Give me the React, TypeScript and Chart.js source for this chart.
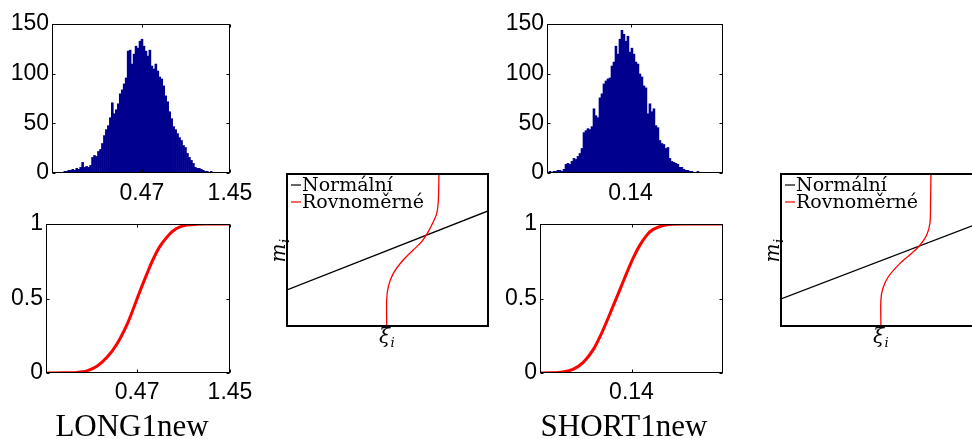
import React, { useEffect, useRef } from "react";
import { Chart, registerables } from "chart.js";

Chart.register(...registerables);

// ---------- Data ----------
const histYTicks = [0, 50, 100, 150];

const histLongStart = -0.53;
const histLongBinWidth = 0.022;
const histLongXRange = [-0.53, 1.45];
const histLongXTicks = [0.47, 1.45];
const histLongCounts = [
  1, 1, 1, 1, 1, 1, 2, 2, 3, 3, 4, 3, 5, 4, 6, 11, 6, 7, 6, 8,
  16, 18, 17, 22, 24, 30, 38, 44, 48, 56, 71, 60, 64, 70, 80, 84, 90, 96, 123, 124,
  110, 120, 128, 126, 133, 135, 128, 123, 118, 124, 108, 105, 110, 103, 97, 95, 88, 78, 72, 62,
  55, 47, 44, 40, 36, 33, 28, 26, 20, 16, 13, 10, 6, 5, 5, 4, 3, 2, 2, 1,
  2, 1, 1, 1, 1, 0, 1, 0, 1,
];

const histShortStart = -0.14;
const histShortBinWidth = 0.0067;
const histShortXRange = [-0.14, 0.45];
const histShortXTicks = [0.14];
const histShortCounts = [
  1, 2, 1, 2, 2, 3, 3, 2, 4, 9, 10, 9, 12, 15, 14, 17, 20, 25, 41, 43,
  45, 44, 47, 65, 58, 56, 76, 80, 90, 93, 95, 96, 108, 112, 128, 120, 135, 144, 140, 133,
  138, 122, 126, 120, 112, 110, 100, 97, 88, 86, 60, 70, 62, 65, 48, 46, 33, 30, 29, 25,
  26, 15, 12, 11, 10, 9, 6, 6, 4, 3, 3, 2, 2, 1, 1, 2, 1, 1, 1, 0,
  1, 1, 0, 1, 1, 1, 1, 1,
];

const cdfYTicks = [0, 0.5, 1];

const cdfLongXRange = [-0.49, 1.45];
const cdfLongXTicks = [0.47, 1.45];
const cdfLongX = [-0.49, -0.3, -0.163, -0.058, 0.047, 0.153, 0.258, 0.364, 0.427, 0.5, 0.574, 0.637, 0.711, 0.785, 0.848, 0.922, 0.996, 1.1, 1.2, 1.45];
const cdfLongY = [0, 0.001, 0.004, 0.014, 0.045, 0.105, 0.195, 0.325, 0.425, 0.548, 0.665, 0.76, 0.85, 0.912, 0.953, 0.98, 0.993, 0.999, 1, 1];

const cdfShortXRange = [-0.16, 0.44];
const cdfShortXTicks = [0.14];
const cdfShortX = [-0.16, -0.12, -0.085, -0.052, -0.019, 0.014, 0.047, 0.079, 0.102, 0.125, 0.145, 0.168, 0.191, 0.21, 0.243, 0.276, 0.31, 0.44];
const cdfShortY = [0, 0.001, 0.007, 0.025, 0.07, 0.155, 0.29, 0.445, 0.56, 0.675, 0.77, 0.86, 0.927, 0.962, 0.99, 0.999, 1, 1];

const normalLongX = [0, 1];
const normalLongY = [0.237, 0.757];
const uniformLongX = [0.496, 0.496, 0.504, 0.529, 0.578, 0.628, 0.67, 0.703, 0.728, 0.745, 0.753, 0.756];
const uniformLongY = [0, 0.171, 0.259, 0.346, 0.434, 0.5, 0.555, 0.621, 0.686, 0.741, 0.829, 1.0];

const normalShortX = [0, 1];
const normalShortY = [0.178, 0.684];
const uniformShortX = [0.497, 0.497, 0.507, 0.534, 0.592, 0.65, 0.692, 0.725, 0.741, 0.744, 0.746];
const uniformShortY = [0, 0.171, 0.248, 0.324, 0.412, 0.478, 0.533, 0.599, 0.676, 0.807, 1];

const legendLabels = ["Normální", "Rovnoměrné"];
const xiTickValue = 0.5;
const titles = ["LONG1new", "SHORT1new"];

// ---------- Styles ----------
const HIST_BLUE = "#00008f";
const RED = "#ff0000";
const sansFont = { family: '"Liberation Sans", Arial, Helvetica, sans-serif', size: 23 };

// ---------- Plugins ----------
const boxPlugin = {
  id: "matBox",
  afterDatasetsDraw(chart: any, _args: any, opts: any) {
    const { ctx, chartArea: a } = chart;
    const lw = opts.lineWidth || 1;
    const off = lw % 2 === 1 ? 0.5 : 0;
    const l = Math.round(a.left) + off;
    const t = Math.round(a.top) + off;
    const r = Math.round(a.right) - off;
    const b = Math.round(a.bottom) - off;
    ctx.save();
    ctx.strokeStyle = "#000";
    ctx.lineWidth = lw;
    ctx.strokeRect(l, t, r - l, b - t);
    if (opts.tickLen) {
      const L = opts.tickLen;
      const xs = chart.scales.x;
      const ys = chart.scales.y;
      ctx.beginPath();
      xs.ticks.forEach((tk: any) => {
        const p = Math.round(xs.getPixelForValue(tk.value)) + 0.5;
        ctx.moveTo(p, b);
        ctx.lineTo(p, b - L);
        ctx.moveTo(p, t);
        ctx.lineTo(p, t + L);
      });
      ys.ticks.forEach((tk: any) => {
        const p = Math.round(ys.getPixelForValue(tk.value)) + 0.5;
        ctx.moveTo(l, p);
        ctx.lineTo(l + L, p);
        ctx.moveTo(r, p);
        ctx.lineTo(r - L, p);
      });
      ctx.stroke();
    }
    ctx.restore();
  },
};

const mLabelPlugin = {
  id: "mLabels",
  afterDraw(chart: any) {
    const { ctx, chartArea: a } = chart;
    const xs = chart.scales.x;
    ctx.save();
    // legend
    const lx = a.left + 4;
    const colors = ["#000", RED];
    legendLabels.forEach((txt, i) => {
      const base = a.top + 17 + i * 17;
      ctx.strokeStyle = colors[i];
      ctx.lineWidth = 1.2;
      ctx.beginPath();
      ctx.moveTo(lx, base - 6);
      ctx.lineTo(lx + 10, base - 6);
      ctx.stroke();
      ctx.fillStyle = "#000";
      ctx.font = '19px "DejaVu Serif"';
      ctx.textAlign = "left";
      ctx.textBaseline = "alphabetic";
      ctx.fillText(txt, lx + 11, base);
    });
    // xi_i label
    const cx = xs.getPixelForValue(xiTickValue) - 3;
    ctx.fillStyle = "#000";
    ctx.textAlign = "center";
    ctx.font = 'italic 20px "DejaVu Serif"';
    ctx.fillText("ξ", cx, a.bottom + 17);
    ctx.font = 'italic 13px "DejaVu Serif"';
    ctx.fillText("i", cx + 8, a.bottom + 21);
    // m_i label (rotated)
    ctx.translate(a.left - 2, (a.top + a.bottom) / 2);
    ctx.rotate(-Math.PI / 2);
    ctx.font = 'italic 20px "DejaVu Serif"';
    ctx.fillText("m", -3, 0);
    ctx.font = 'italic 13px "DejaVu Serif"';
    ctx.fillText("i", 9, 4);
    ctx.restore();
  },
};

// ---------- Config builders ----------
function axisCommon() {
  return {
    type: "linear",
    grid: { display: false, drawTicks: false },
    border: { display: false },
  };
}

function histConfig(counts: number[], start: number, w: number, xRange: number[], xTicks: number[], yW: number, padRight: number) {
  const data = counts.map((c, i) => ({ x: start + (i + 0.5) * w, y: c }));
  return {
    type: "bar",
    data: {
      datasets: [
        { data, backgroundColor: HIST_BLUE, borderWidth: 0, barThickness: 2.6, inflateAmount: 0 },
      ],
    },
    options: {
      responsive: false,
      animation: false,
      devicePixelRatio: 1,
      events: [],
      layout: { padding: { left: 0, top: 24, right: padRight, bottom: 0 } },
      plugins: { legend: { display: false }, tooltip: { enabled: false }, matBox: { lineWidth: 1, tickLen: 3 } },
      scales: {
        x: {
          ...axisCommon(),
          offset: false,
          min: xRange[0],
          max: xRange[1],
          ticks: { font: sansFont, color: "#000", padding: 7, maxRotation: 0, autoSkip: false, callback: (v: any) => String(v) },
          afterBuildTicks: (s: any) => { s.ticks = xTicks.map((v) => ({ value: v })); },
          afterFit: (s: any) => { s.height = 32; },
        },
        y: {
          ...axisCommon(),
          min: 0,
          max: 150,
          ticks: { font: sansFont, color: "#000", padding: 3, callback: (v: any) => String(v) },
          afterBuildTicks: (s: any) => { s.ticks = histYTicks.map((v) => ({ value: v })); },
          afterFit: (s: any) => { s.width = yW; },
        },
      },
    },
    plugins: [boxPlugin],
  };
}

function cdfConfig(xsArr: number[], ysArr: number[], xRange: number[], xTicks: number[], yW: number, padRight: number) {
  const data = xsArr.map((x, i) => ({ x, y: ysArr[i] }));
  return {
    type: "scatter",
    data: {
      datasets: [
        { data, showLine: true, borderColor: RED, borderWidth: 3, pointRadius: 0, tension: 0.3 },
      ],
    },
    options: {
      responsive: false,
      animation: false,
      devicePixelRatio: 1,
      events: [],
      layout: { padding: { left: 0, top: 24, right: padRight, bottom: 0 } },
      plugins: { legend: { display: false }, tooltip: { enabled: false }, matBox: { lineWidth: 1, tickLen: 3 } },
      scales: {
        x: {
          ...axisCommon(),
          min: xRange[0],
          max: xRange[1],
          ticks: { font: sansFont, color: "#000", padding: 6, maxRotation: 0, autoSkip: false, callback: (v: any) => String(v) },
          afterBuildTicks: (s: any) => { s.ticks = xTicks.map((v) => ({ value: v })); },
          afterFit: (s: any) => { s.height = 66; },
        },
        y: {
          ...axisCommon(),
          min: 0,
          max: 1,
          ticks: { font: sansFont, color: "#000", padding: 3, callback: (v: any) => String(v) },
          afterBuildTicks: (s: any) => { s.ticks = cdfYTicks.map((v) => ({ value: v })); },
          afterFit: (s: any) => { s.width = yW; },
        },
      },
    },
    plugins: [boxPlugin],
  };
}

function mConfig(nx: number[], ny: number[], ux: number[], uy: number[]) {
  return {
    type: "scatter",
    data: {
      datasets: [
        { data: ux.map((x, i) => ({ x, y: uy[i] })), showLine: true, borderColor: RED, borderWidth: 1.3, pointRadius: 0, tension: 0.3 },
        { data: nx.map((x, i) => ({ x, y: ny[i] })), showLine: true, borderColor: "#000", borderWidth: 1.3, pointRadius: 0, tension: 0 },
      ],
    },
    options: {
      responsive: false,
      animation: false,
      devicePixelRatio: 1,
      events: [],
      layout: { padding: { left: 17, top: 14, right: 12, bottom: 34 } },
      plugins: { legend: { display: false }, tooltip: { enabled: false }, matBox: { lineWidth: 2, tickLen: 0 } },
      scales: {
        x: { type: "linear", display: false, min: 0, max: 1 },
        y: { type: "linear", display: false, min: 0, max: 1 },
      },
    },
    plugins: [boxPlugin, mLabelPlugin],
  };
}

// ---------- Components ----------
function ChartPanel({ left, top, width, height, build }: { left: number; top: number; width: number; height: number; build: () => any }) {
  const ref = useRef<HTMLCanvasElement>(null);
  useEffect(() => {
    const chart = new Chart(ref.current as HTMLCanvasElement, build());
    return () => chart.destroy();
  }, []);
  return (
    <canvas
      ref={ref}
      width={width}
      height={height}
      style={{ position: "absolute", left, top, width, height, display: "block" }}
    />
  );
}

const titleStyle: React.CSSProperties = {
  position: "absolute",
  top: 410,
  fontFamily: '"Liberation Serif", "Times New Roman", serif',
  fontSize: 31,
  lineHeight: "31px",
  textAlign: "center",
  color: "#000",
  whiteSpace: "nowrap",
};

export default function App() {
  return (
    <div
      style={{
        position: "fixed",
        left: 0,
        top: 0,
        width: 972,
        height: 439,
        overflow: "hidden",
        background: "#fff",
      }}
    >
      <ChartPanel left={0} top={0} width={262} height={205}
        build={() => histConfig(histLongCounts, histLongStart, histLongBinWidth, histLongXRange, histLongXTicks, 52, 32)} />
      <ChartPanel left={0} top={200} width={262} height={239}
        build={() => cdfConfig(cdfLongX, cdfLongY, cdfLongXRange, cdfLongXTicks, 46, 32)} />
      <ChartPanel left={270} top={160} width={230} height={200}
        build={() => mConfig(normalLongX, normalLongY, uniformLongX, uniformLongY)} />
      <ChartPanel left={495} top={0} width={262} height={205}
        build={() => histConfig(histShortCounts, histShortStart, histShortBinWidth, histShortXRange, histShortXTicks, 52, 34)} />
      <ChartPanel left={495} top={200} width={262} height={239}
        build={() => cdfConfig(cdfShortX, cdfShortY, cdfShortXRange, cdfShortXTicks, 45, 34)} />
      <ChartPanel left={764} top={160} width={230} height={200}
        build={() => mConfig(normalShortX, normalShortY, uniformShortX, uniformShortY)} />
      <div style={{ ...titleStyle, left: 40, width: 184 }}>{titles[0]}</div>
      <div style={{ ...titleStyle, left: 540, width: 168 }}>{titles[1]}</div>
    </div>
  );
}
